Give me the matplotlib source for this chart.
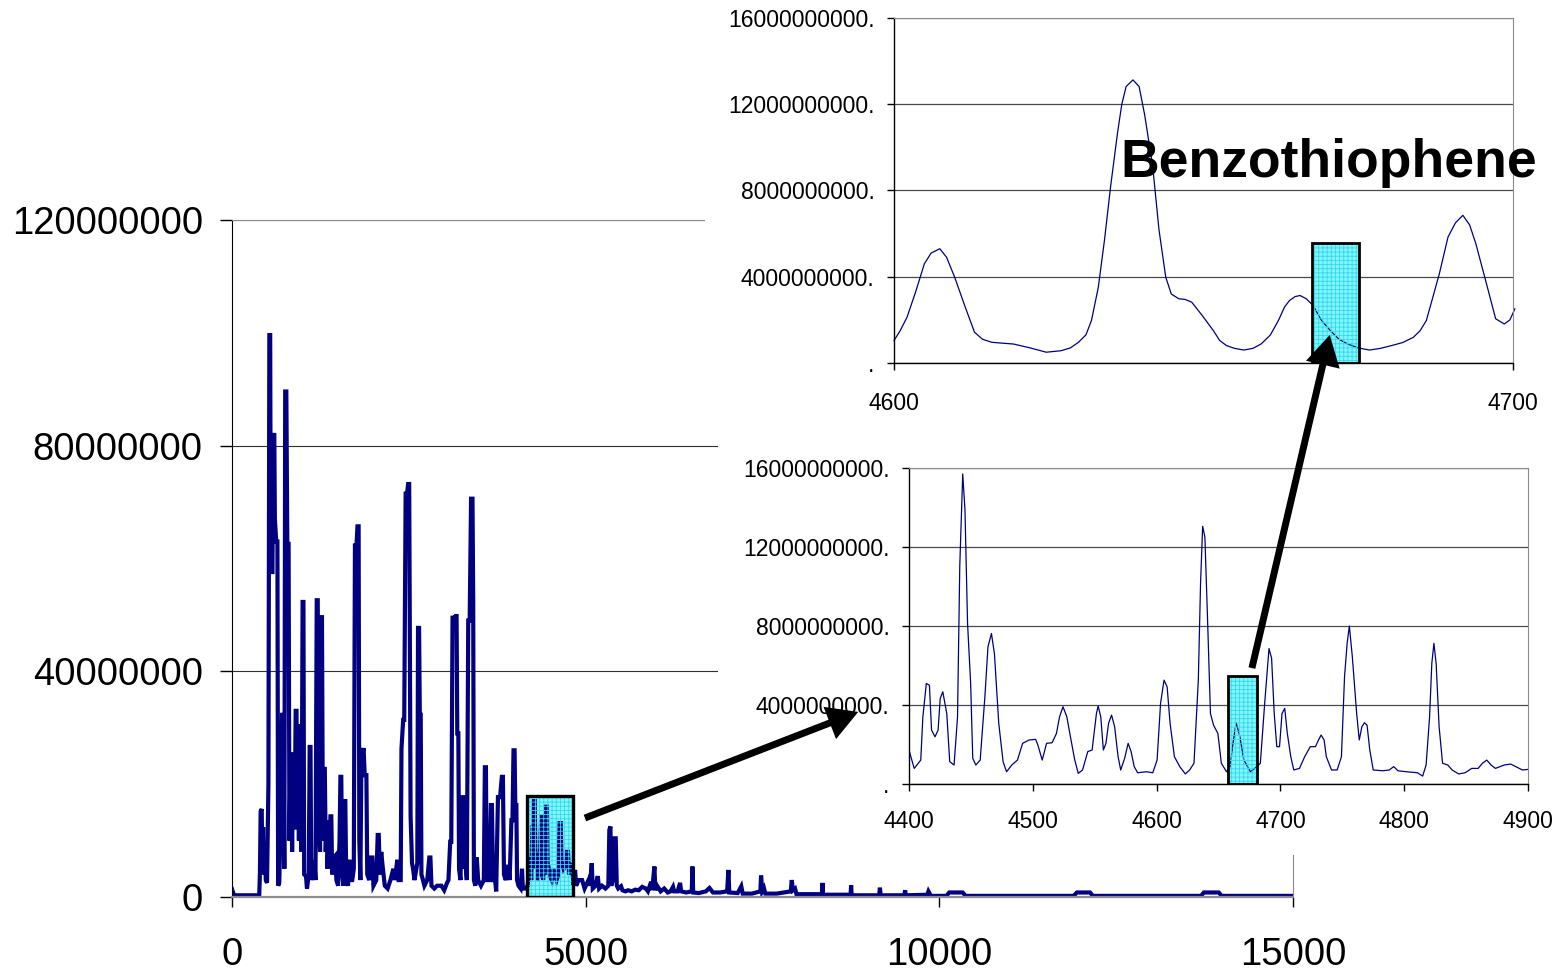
import numpy as np
import matplotlib.pyplot as plt
from matplotlib.patches import Rectangle, ConnectionPatch
from matplotlib.ticker import FuncFormatter, MultipleLocator

plt.rcParams["font.family"] = ["Liberation Sans", "DejaVu Sans"]
plt.rcParams["hatch.linewidth"] = 0.6

W, H = 1567, 971
NAVY = "#000080"
CYAN = "#7ff6ff"
CYAN_DOTS = "#38d8ea"

# full run: (scan, intensity in millions)
TIC = [
    (0, 1.4), (12, 0.9), (30, 0.3), (385, 0.3),
    (395, 4.3), (405, 15.2), (420, 15.6), (428, 6.0), (440, 12.4), (452, 4.0), (462, 8.0), (478, 3.0), (495, 2.5),
    (515, 20.0), (528, 99.6), (540, 99.6), (548, 57.6), (572, 57.6), (582, 81.9), (598, 81.9), (606, 67.0),
    (625, 63.0), (642, 63.0), (652, 2.0), (668, 2.5),
    (690, 15.0), (708, 32.3), (724, 32.3), (740, 5.0), (752, 89.6), (768, 89.6), (782, 62.6), (800, 62.6),
    (812, 10.0), (825, 21.3), (838, 21.3), (850, 8.0), (862, 25.3), (874, 25.3), (886, 12.0), (900, 33.0),
    (912, 33.0), (922, 14.0), (934, 23.0), (946, 10.0), (960, 30.3), (972, 30.3), (984, 8.0), (998, 52.3),
    (1010, 52.3), (1020, 4.0), (1046, 3.7), (1060, 1.5), (1085, 4.0), (1098, 26.6), (1110, 26.6), (1120, 3.0),
    (1150, 5.0), (1164, 6.4), (1180, 3.0), (1198, 52.6), (1212, 52.6), (1224, 15.0), (1245, 8.0), (1260, 49.6),
    (1272, 49.6), (1285, 10.0), (1298, 22.7), (1312, 22.7), (1325, 8.0), (1338, 13.6), (1350, 5.0), (1365, 10.0),
    (1378, 8.0), (1392, 14.3), (1404, 14.3), (1416, 4.0), (1440, 7.0), (1460, 7.3), (1476, 3.0), (1500, 2.0),
    (1520, 10.0), (1533, 21.3), (1545, 21.3), (1558, 4.0), (1576, 2.0), (1590, 17.0), (1602, 17.0), (1615, 3.0),
    (1640, 2.0), (1660, 6.6), (1676, 3.0), (1700, 3.0), (1722, 5.0), (1738, 62.3), (1760, 62.3), (1774, 65.7),
    (1790, 65.7), (1800, 10.0), (1815, 3.0), (1830, 25.3), (1845, 25.3), (1860, 26.4), (1876, 21.6), (1900, 21.6),
    (1912, 4.0), (1940, 3.0), (1965, 7.0), (1985, 7.0), (2000, 2.0), (2040, 3.0), (2060, 11.0), (2075, 11.0),
    (2090, 4.0), (2110, 8.0), (2125, 6.0), (2160, 2.0), (2200, 1.5), (2240, 3.0), (2281, 5.0), (2300, 3.0),
    (2338, 6.6), (2355, 3.0), (2385, 3.0), (2396, 26.3), (2420, 31.4), (2435, 31.4), (2455, 71.5), (2475, 71.5),
    (2490, 73.2), (2505, 73.2), (2515, 45.6), (2525, 14.3), (2545, 6.0), (2560, 5.0), (2580, 3.0), (2620, 6.0),
    (2630, 47.7), (2645, 47.7), (2655, 32.3), (2668, 32.3), (2678, 4.0), (2700, 3.0), (2720, 2.0), (2760, 3.0),
    (2790, 7.0), (2805, 7.0), (2820, 2.0), (2860, 1.5), (2900, 2.0), (2960, 2.0), (3000, 1.2), (3040, 2.5),
    (3060, 3.0), (3085, 9.8), (3100, 9.8), (3118, 49.5), (3140, 49.5), (3160, 49.8), (3175, 49.8), (3185, 29.0),
    (3200, 29.0), (3210, 5.0), (3230, 3.0), (3255, 17.7), (3270, 17.7), (3280, 5.0), (3300, 6.0), (3320, 3.0),
    (3340, 49.0), (3360, 49.0), (3380, 70.6), (3400, 70.6), (3410, 53.0), (3420, 3.0), (3440, 2.0), (3460, 7.0),
    (3480, 3.0), (3520, 2.0), (3560, 3.0), (3575, 23.0), (3590, 23.0), (3600, 3.0), (3640, 3.0), (3660, 16.3),
    (3675, 16.3), (3690, 3.0), (3720, 3.0), (3735, 1.0), (3760, 17.7), (3790, 17.7), (3815, 21.3), (3830, 21.3),
    (3845, 4.0), (3870, 3.0), (3900, 5.7), (3925, 3.0), (3950, 13.6), (3965, 13.6), (3980, 26.0), (3995, 26.0),
    (4005, 16.3), (4020, 16.3), (4030, 3.0), (4050, 2.0), (4080, 1.5), (4100, 5.0), (4112, 1.5), (4150, 1.5),
    (4180, 2.0), (4200, 5.0), (4214, 7.0), (4230, 3.0), (4247, 12.4), (4258, 12.4), (4270, 17.0), (4280, 17.0),
    (4292, 5.0), (4308, 8.0), (4320, 3.0), (4345, 4.0), (4370, 14.2), (4385, 14.2), (4398, 3.0), (4417, 10.0),
    (4428, 4.0), (4440, 16.0), (4452, 16.0), (4462, 6.0), (4480, 5.0), (4497, 3.6), (4520, 3.0), (4545, 5.0),
    (4567, 4.0), (4590, 3.0), (4615, 4.0), (4632, 13.1), (4648, 13.1), (4660, 5.0), (4675, 6.0), (4690, 5.0),
    (4715, 5.5), (4735, 8.0), (4750, 8.0), (4765, 4.0), (4789, 6.0), (4810, 5.0), (4830, 2.0),
    (4850, 4.8), (4865, 2.0), (4900, 3.0), (4950, 3.0), (4985, 1.5), (5010, 2.2), (5040, 3.0), (5060, 2.0),
    (5086, 6.0), (5100, 1.5), (5140, 2.0), (5171, 3.7), (5190, 1.5), (5230, 2.0), (5280, 1.5), (5320, 2.0),
    (5335, 11.9), (5350, 12.5), (5362, 2.0), (5385, 3.0), (5410, 10.4), (5425, 10.4), (5440, 2.0), (5460, 1.5),
    (5500, 1.9), (5520, 1.2), (5560, 1.0), (5600, 1.2), (5650, 1.0), (5700, 1.3), (5750, 1.2), (5800, 1.8),
    (5850, 1.5), (5880, 1.0), (5925, 2.7), (5940, 1.2), (5972, 5.4), (5985, 1.2), (6010, 2.0), (6060, 1.0),
    (6110, 1.5), (6160, 0.8), (6200, 1.0), (6235, 1.8), (6250, 1.0), (6300, 1.0), (6335, 2.5), (6350, 1.0),
    (6420, 0.8), (6500, 1.0), (6509, 5.4), (6520, 0.8), (6600, 0.7), (6700, 1.0), (6750, 1.6), (6800, 0.8),
    (6900, 0.8), (7000, 1.0), (7018, 4.8), (7030, 0.8), (7150, 0.7), (7200, 1.9), (7220, 0.6), (7350, 0.6),
    (7470, 1.0), (7480, 3.8), (7495, 1.0), (7520, 1.6), (7540, 0.6), (7700, 0.6), (7900, 1.0), (7914, 3.0),
    (7930, 1.2), (7960, 1.5), (7980, 0.5), (8200, 0.5), (8340, 0.5), (8347, 2.5), (8355, 0.4), (8600, 0.4),
    (8745, 0.4), (8753, 2.1), (8760, 0.3), (9150, 0.3), (9160, 1.65), (9170, 0.3), (9505, 0.3), (9516, 1.2),
    (9525, 0.3), (9830, 0.4), (9846, 1.0), (9880, 0.2), (10100, 0.2), (10140, 0.8), (10330, 0.8), (10370, 0.2),
    (11900, 0.2), (11945, 0.8), (12130, 0.8), (12170, 0.2), (13700, 0.2), (13740, 0.8), (13950, 0.8),
    (13990, 0.2), (15000, 0.2),
]

# scans 4400-4900, intensity in 1e9
WIDE_X = [4400, 4404.2, 4409.5, 4411.2, 4414.0, 4416.5, 4418.2, 4421.0, 4423.5, 4425.2, 4427.3, 4430.5,
          4432.9, 4436.4, 4439.2, 4441.0, 4443.4, 4445.2, 4447.3, 4449.8, 4451.5, 4454.0, 4457.5, 4461.3,
          4463.8, 4466.6, 4469.0, 4472.5, 4476.0, 4478.8, 4483.0, 4487.6, 4491.8, 4497.1, 4502.3, 4504.1,
          4507.6, 4511.1, 4515.6, 4519.1, 4521.6, 4524.4, 4527.5, 4530.4, 4533.9, 4536.7, 4540.2, 4544.4,
          4547.9, 4551.4, 4552.8, 4554.9, 4557.0, 4559.1, 4561.2, 4563.6, 4566.1, 4568.9, 4571.0, 4574.2,
          4577.0, 4579.4, 4581.9, 4584.7, 4591.7, 4596.9, 4600.4, 4603.2, 4606.0, 4608.5, 4610.9, 4614.4,
          4618.7, 4623.2, 4626.7, 4630.2, 4633.7, 4635.5, 4637.2, 4639.0, 4641.1, 4643.5, 4646.0, 4649.5,
          4652.3, 4656.5, 4659.3, 4661.7, 4664.2, 4667.0, 4670.5, 4675.8, 4679.3, 4683.8, 4687.3, 4690.8,
          4692.9, 4695.0, 4697.1, 4699.3, 4701.3, 4703.5, 4705.6, 4708.4, 4710.8, 4715.4, 4719.6, 4724.1,
          4728.3, 4730.8, 4732.9, 4735.3, 4737.1, 4741.3, 4745.8, 4749.3, 4751.8, 4753.9, 4755.7, 4758.1,
          4761.6, 4763.7, 4765.8, 4767.9, 4770.0, 4772.2, 4775.0, 4782.7, 4788.0, 4791.5, 4795.0, 4802.0,
          4810.7, 4814.9, 4817.7, 4820.5, 4822.3, 4824.0, 4825.8, 4828.2, 4831.0, 4835.2, 4838.7, 4844.0,
          4849.2, 4854.5, 4859.7, 4863.2, 4866.7, 4870.2, 4873.7, 4880.7, 4886.0, 4891.3, 4895.5, 4900]
WIDE_Y = [1.72, 0.79, 1.21, 3.40, 5.09, 5.00, 2.73, 2.39, 2.73, 4.33, 4.67, 3.57,
          1.13, 0.96, 3.40, 11.0, 15.7, 13.9, 8.13, 5.09, 1.30, 0.96, 1.21, 4.42,
          6.95, 7.62, 6.60, 3.07, 1.13, 0.62, 0.96, 1.21, 2.06, 2.23, 2.26, 1.97,
          1.21, 2.06, 2.09, 2.56, 3.40, 3.91, 3.40, 2.39, 1.21, 0.54, 0.71, 1.64,
          1.72, 3.57, 3.95, 3.40, 1.72, 2.06, 3.07, 3.49, 2.90, 1.38, 0.71, 1.30,
          2.06, 1.64, 0.88, 0.57, 0.62, 0.57, 1.21, 4.08, 5.26, 4.92, 3.07, 1.38,
          0.88, 0.51, 0.71, 1.05, 5.26, 10.15, 13.05, 12.5, 8.46, 3.57, 2.98, 2.56,
          1.05, 0.62, 0.88, 2.06, 3.10, 2.48, 1.21, 0.62, 0.79, 1.05, 4.08, 6.86,
          6.36, 3.57, 1.89, 1.89, 3.57, 3.83, 2.56, 1.38, 0.71, 0.79, 1.38, 1.89,
          1.89, 2.23, 2.48, 2.23, 1.38, 0.71, 0.71, 1.38, 5.43, 7.12, 8.00, 6.44,
          3.57, 2.23, 2.90, 3.10, 2.98, 1.72, 0.71, 0.67, 0.71, 0.88, 0.67, 0.62,
          0.57, 0.40, 0.96, 3.40, 6.10, 7.12, 6.10, 2.90, 1.05, 0.96, 0.71, 0.51,
          0.57, 0.79, 0.79, 1.05, 1.21, 0.96, 0.79, 0.96, 1.01, 0.84, 0.71, 0.74]

# scans 4600-4700, intensity in 1e9
NARROW_X = [4600, 4601.0, 4602.1, 4603.5, 4604.9, 4606.0, 4607.4, 4608.5, 4609.8, 4611.5, 4613.0, 4614.3,
            4615.8, 4617.5, 4619.3, 4622.0, 4624.6, 4627.0, 4628.5, 4629.8, 4631.0, 4631.9, 4633.0, 4634.0,
            4635.0, 4636.1, 4636.8, 4637.5, 4638.6, 4639.6, 4640.5, 4641.8, 4642.8, 4643.9, 4644.8, 4646.0,
            4647.0, 4648.1, 4649.8, 4651.6, 4652.6, 4653.7, 4655.0, 4656.5, 4658.0, 4659.3, 4660.8, 4662.1,
            4663.1, 4663.9, 4664.8, 4665.6, 4666.6, 4667.7, 4669.0, 4670.5, 4671.9, 4673.3, 4675.0, 4676.8,
            4678.6, 4680.4, 4682.2, 4683.9, 4685.0, 4686.0, 4687.0, 4688.1, 4689.5, 4690.7, 4691.9, 4693.0,
            4694.0, 4695.6, 4697.2, 4698.6, 4699.5, 4700.3]
NARROW_Y = [1.04, 1.50, 2.12, 3.30, 4.60, 5.10, 5.30, 4.90, 3.98, 2.60, 1.43, 1.10,
            0.96, 0.92, 0.88, 0.70, 0.50, 0.57, 0.70, 0.96, 1.30, 1.97, 3.50, 5.69,
            8.20, 10.65, 12.00, 12.82, 13.13, 12.82, 11.50, 9.10, 6.20, 3.98, 3.20, 2.98,
            2.95, 2.82, 2.20, 1.50, 1.05, 0.81, 0.68, 0.60, 0.68, 0.88, 1.30, 1.97,
            2.60, 2.90, 3.08, 3.13, 2.98, 2.67, 2.00, 1.50, 1.10, 0.88, 0.70, 0.60,
            0.68, 0.81, 0.95, 1.19, 1.50, 1.97, 3.00, 4.14, 5.84, 6.50, 6.85, 6.40,
            5.53, 3.80, 2.05, 1.81, 2.00, 2.51]

# highlighted scan windows: (start, end, box height)
MAIN_BOX = (4176, 4818, 17.9e6)
WIDE_BOX = (4657.5, 4681.0, 5.46e9)
NARROW_BOX = (4667.6, 4675.1, 5.58e9)


def px_rect(left, top, right, bottom):
    return [left / W, 1 - bottom / H, (right - left) / W, (bottom - top) / H]


def highlight(ax, box, lw):
    x0, x1, top = box
    ax.add_patch(Rectangle((x0, 0), x1 - x0, top, facecolor=CYAN, edgecolor="none", zorder=1.5))
    ax.add_patch(Rectangle((x0, 0), x1 - x0, top, facecolor="none", edgecolor=CYAN_DOTS,
                           lw=0, hatch="++++", zorder=2.5))
    ax.add_patch(Rectangle((x0, 0), x1 - x0, top, fill=False, edgecolor="black", lw=lw, zorder=3))


def style_inset(ax):
    ax.set_facecolor("white")
    ax.set_axisbelow(True)
    ax.yaxis.set_major_locator(MultipleLocator(4e9))
    ax.xaxis.set_major_locator(MultipleLocator(100))
    ax.yaxis.set_major_formatter(FuncFormatter(lambda v, _: f"{v:.0f}." if v > 0 else "."))
    ax.xaxis.set_major_formatter(FuncFormatter(lambda v, _: f"{v:.0f}"))
    ax.grid(axis="y", color="#4a4a4a", lw=0.9)
    for side in ("top", "right"):
        ax.spines[side].set_color("#8c8c8c")
    for side in ("left", "bottom"):
        ax.spines[side].set_color("black")
        ax.spines[side].set_linewidth(1.0)
    ax.tick_params(labelsize=16.5, length=5, width=1, pad=9, direction="out")
    ax.tick_params(axis="x", pad=14)


fig = plt.figure(figsize=(W / 100, H / 100), dpi=100)
fig.patch.set_facecolor("white")

# ── main trace ──────────────────────────────────────────────────────────
ax = fig.add_axes(px_rect(232, 220, 1293, 897), zorder=0)
tic_x, tic_y = zip(*TIC)
ax.plot(tic_x, np.array(tic_y) * 1e6, color=NAVY, lw=3.0, zorder=2, solid_joinstyle="miter")
highlight(ax, MAIN_BOX, 2.4)
ax.set_xlim(0, 15000)
ax.set_ylim(0, 120e6)
ax.set_xticks([0, 5000, 10000, 15000])
ax.set_yticks([0, 40e6, 80e6, 120e6])
ax.yaxis.set_major_formatter(FuncFormatter(lambda v, _: f"{v:.0f}"))
ax.grid(axis="y", color="#303030", lw=0.8)
ax.set_axisbelow(True)
ax.spines["top"].set_color("#8c8c8c")
ax.spines["right"].set_color("#8c8c8c")
ax.spines["bottom"].set_color("#8c8c8c")
ax.spines["bottom"].set_linewidth(1.6)
ax.spines["left"].set_color("black")
ax.tick_params(axis="y", labelsize=27.5, length=9, width=1, pad=12)
ax.tick_params(axis="x", labelsize=27.5, length=7, width=1, pad=22)

# white panels behind the two zoomed views
fig.add_artist(Rectangle((705 / W, 1 - 444 / H), 1 - 705 / W, 444 / H, facecolor="white",
                         edgecolor="none", zorder=0.5))
fig.add_artist(Rectangle((718 / W, 1 - 855 / H), 1 - 718 / W, (855 - 442) / H, facecolor="white",
                         edgecolor="none", zorder=0.5))

# ── 4400-4900 view ──────────────────────────────────────────────────────
ins2 = fig.add_axes(px_rect(909, 468, 1528, 784), zorder=1)
ins2.plot(WIDE_X, np.array(WIDE_Y) * 1e9, color=NAVY, lw=0.9, zorder=2)
highlight(ins2, WIDE_BOX, 2.0)
ins2.set_xlim(4400, 4900)
ins2.set_ylim(0, 16e9)
style_inset(ins2)

# ── 4600-4700 view ──────────────────────────────────────────────────────
ins1 = fig.add_axes(px_rect(894, 18, 1513, 363), zorder=1)
ins1.plot(NARROW_X, np.array(NARROW_Y) * 1e9, color=NAVY, lw=0.9, zorder=2, clip_on=False)
highlight(ins1, NARROW_BOX, 2.0)
ins1.set_xlim(4600, 4700)
ins1.set_ylim(0, 16e9)
style_inset(ins1)
ins1.tick_params(axis="x", pad=16)
ins1.text(4636.5, 8.63e9, "Benzothiophene", fontsize=38.5, fontweight="bold",
          ha="left", va="baseline", zorder=5, clip_on=False)

# ── arrows linking the views ────────────────────────────────────────────
arrow_style = "-|>,head_length=0.6,head_width=0.34"
for xy_a, ax_a, xy_b, ax_b in [
    ((4990, 14.0e6), ax, (4359, 3.65e9), ins2),
    ((4677, 5.87e9), ins2, (4670.4, 1.30e9), ins1),
]:
    con = ConnectionPatch(xyA=xy_a, coordsA=ax_a.transData, xyB=xy_b, coordsB=ax_b.transData,
                          arrowstyle=arrow_style, mutation_scale=24, lw=5, color="black",
                          capstyle="butt", joinstyle="miter")
    con.set_zorder(10)
    fig.add_artist(con)

fig.savefig("out.png", dpi=100, facecolor="white")
